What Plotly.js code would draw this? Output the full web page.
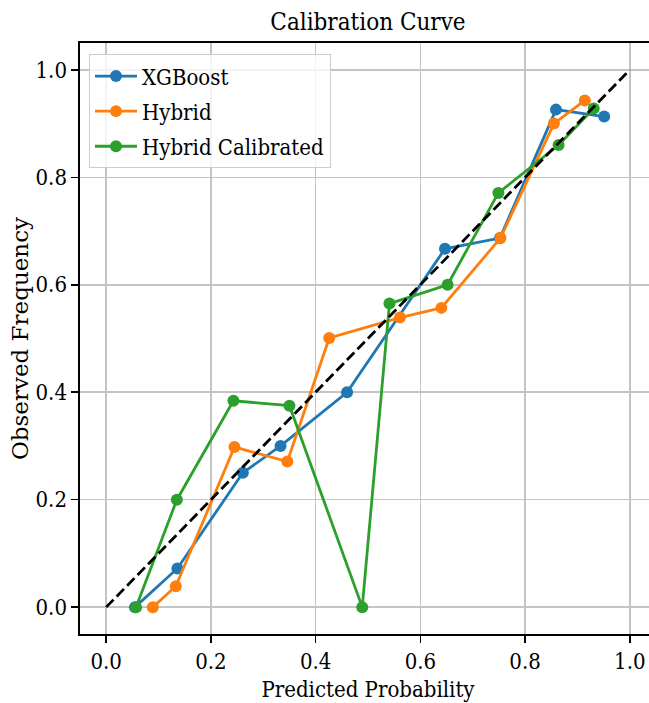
<!DOCTYPE html>
<html>
<head>
<meta charset="utf-8">
<script src="https://cdn.plot.ly/plotly-3.0.1.min.js"></script>
<style>
html, body { margin: 0; padding: 0; overflow: hidden; background: #fff; }
#chart { width: 660px; height: 703px; }
</style>
</head>
<body>
<div id="chart"></div>
<script>
// Data
const xgbX = [0.055, 0.136, 0.261, 0.333, 0.460, 0.647, 0.752, 0.859, 0.951];
const xgbY = [0.000, 0.072, 0.250, 0.300, 0.400, 0.667, 0.687, 0.926, 0.913];

const hybX = [0.089, 0.133, 0.245, 0.346, 0.426, 0.561, 0.640, 0.753, 0.855, 0.914];
const hybY = [0.000, 0.039, 0.298, 0.271, 0.501, 0.539, 0.557, 0.687, 0.900, 0.943];

const calX = [0.057, 0.135, 0.243, 0.350, 0.489, 0.541, 0.652, 0.749, 0.864, 0.931];
const calY = [0.000, 0.200, 0.384, 0.375, 0.000, 0.565, 0.600, 0.771, 0.860, 0.928];

const diagX = [0, 1];
const diagY = [0, 1];

const names = ["XGBoost", "Hybrid", "Hybrid Calibrated"];
const colors = ["#1f77b4", "#ff7f0e", "#2ca02c"];
const tickVals = [0.0, 0.2, 0.4, 0.6, 0.8, 1.0];
const tickText = ["0.0", "0.2", "0.4", "0.6", "0.8", "1.0"];

const COND = "'DejaVu Serif Condensed', 'DejaVu Serif', serif";
const SERIF = "'DejaVu Serif', serif";

const series = [[xgbX, xgbY], [hybX, hybY], [calX, calY]];
const traces = series.map((s, i) => ({
  x: s[0], y: s[1], name: names[i], type: "scatter", mode: "lines+markers",
  legendgroup: "g" + i,
  line: { color: colors[i], width: 2.8 },
  marker: { color: colors[i], size: 12 }
}));
traces.push({
  x: diagX, y: diagY, type: "scatter", mode: "lines", showlegend: false,
  line: { color: "#000000", width: 2.8, dash: "10.5px,4.5px" }
});

const axisCommon = {
  range: [-0.05, 1.05],
  tickvals: tickVals, ticktext: tickText,
  ticks: "outside", ticklen: 7, tickwidth: 1.6, tickcolor: "#000",
  showline: true, linecolor: "#000", linewidth: 1.6, mirror: true,
  showgrid: true, gridcolor: "#c4c4c4", gridwidth: 1.5,
  zeroline: false, automargin: false,
  tickfont: { family: COND, size: 22, color: "#000" }
};

const layout = {
  width: 660, height: 703,
  margin: { l: 80, r: 4, t: 43, b: 69 },
  paper_bgcolor: "#fff", plot_bgcolor: "#fff",
  showlegend: true,
  title: {
    text: "Calibration Curve", x: 0.5, xref: "paper", xanchor: "center",
    y: 1, yref: "paper", yanchor: "bottom", pad: { b: 13 },
    font: { family: COND, size: 24, color: "#000" }
  },
  xaxis: Object.assign({}, axisCommon, {
    title: { text: "Predicted Probability", font: { family: COND, size: 22, color: "#000" }, standoff: 8 }
  }),
  yaxis: Object.assign({}, axisCommon, {
    title: { text: "Observed Frequency", font: { family: SERIF, size: 23, color: "#000" }, standoff: 0 }
  }),
  legend: {
    x: 0.0156, y: 0.981, xanchor: "left", yanchor: "top",
    bgcolor: "rgba(255,255,255,0.8)", bordercolor: "#cccccc", borderwidth: 1,
    font: { family: COND, size: 22, color: "#000" },
    itemwidth: 42,
    tracegroupgap: 3.5, traceorder: "grouped"
  }
};

Plotly.newPlot("chart", traces, layout, { displayModeBar: false, staticPlot: true });
</script>
</body>
</html>
